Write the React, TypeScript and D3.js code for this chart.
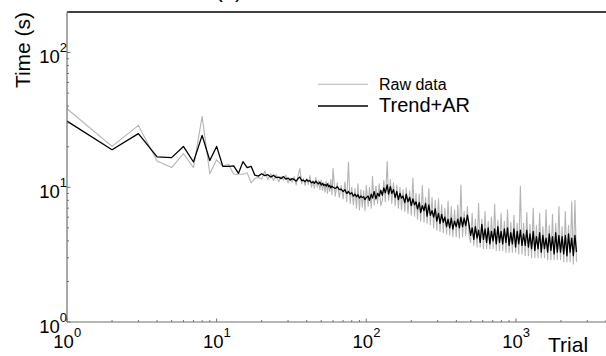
import React from "react";
import * as d3 from "d3";

// ---- data ----
const trials = [
  1, 2, 3, 4, 5, 6, 7, 8, 9, 10, 11, 12, 13, 14, 15, 16, 17, 18, 19,
  20, 21, 22, 23, 24, 25, 26, 27, 28, 29, 30, 31, 32, 33, 34, 35, 36, 37, 38, 39, 40,
  41, 42, 43, 44, 45, 46, 47, 48, 49, 50, 51, 52, 53, 54, 55, 56, 57, 58, 59, 60,
  62, 64, 66, 68, 70, 72, 74, 76, 78, 80, 82, 84, 86, 88, 90, 92, 94, 96, 98, 100,
  103, 105, 108, 110, 113, 116, 119, 122, 125,
  128, 131, 134, 138, 141, 145, 148, 152, 156, 160,
  164, 168, 172, 176, 181, 185, 190, 195, 200, 205, 210, 215,
  220, 226, 231, 237, 243, 249, 255, 262, 268, 275, 282, 289, 296, 304,
  311, 319, 327, 335, 344, 352, 361, 370, 379, 389, 399, 409, 419, 429, 440,
  451, 462, 474, 486, 498, 510,
  523, 536, 550, 563, 577, 592, 607, 622, 637, 653, 670, 686, 704, 721, 739, 758, 777, 796,
  816, 837, 858, 879, 901, 924, 947, 970, 995, 1020, 1045, 1071, 1098, 1125, 1154, 1182,
  1212, 1242, 1273, 1305, 1338, 1371, 1406, 1441, 1477, 1514, 1552, 1590, 1630, 1671, 1713, 1756, 1800, 1845, 1891, 1938, 1986, 2036,
  2087, 2139, 2192, 2247, 2303, 2361, 2420, 2480, 2540,
];

const rawTime = [
  38.3, 20.1, 28.8, 15.7, 14.0, 17.8, 14.0, 33.6, 12.6, 16.0, 14.3, 14.8, 12.5, 12.5, 12.5, 12.8, 10.8, 11.6, 11.8,
  11.5, 13.2, 11.4, 12.6, 11.2, 12.4, 11.0, 12.0, 11.3, 12.3, 10.8, 11.7, 10.9, 12.0, 10.4, 12.2, 13.8, 10.6, 11.6, 10.3,
  11.6, 10.5, 12.2, 10.0, 11.2, 9.8, 11.8, 10.0, 11.2, 9.6, 11.3, 9.5, 10.9, 9.2, 11.1, 9.0, 10.8, 9.3, 11.4, 8.8, 13.8,
  8.6, 10.8, 8.4, 10.3, 8.2, 11.0, 7.8, 15.4, 7.6, 10.0, 7.4, 9.8, 7.0, 10.6, 6.8, 9.6, 7.1, 9.4, 6.7, 10.3,
  7.2, 10.0, 7.0, 12.0, 7.4, 10.2, 7.6, 10.6, 7.3,
  8.0, 11.2, 7.8, 15.5, 8.0, 11.4, 7.6, 10.8, 7.3, 10.4,
  7.0, 10.0, 6.8, 9.6, 6.6, 9.9, 6.4, 9.4, 6.2, 11.7, 6.1, 9.0,
  5.8, 8.9, 5.6, 10.3, 5.5, 8.4, 5.4, 9.8, 5.3, 8.4, 5.0, 8.0, 4.8, 8.2,
  4.7, 7.4, 4.6, 7.0, 4.5, 7.9, 4.4, 7.2, 4.3, 6.8, 4.3, 7.4, 4.2, 10.4, 4.3,
  6.6, 4.4, 7.2, 4.4, 3.9, 6.4,
  3.7, 5.8, 3.6, 7.6, 3.6, 5.8, 3.5, 6.6, 3.5, 5.6, 3.5, 6.0, 3.5, 7.5, 3.4, 5.7, 3.4, 6.4,
  3.4, 5.6, 3.3, 6.8, 3.3, 5.5, 3.3, 6.2, 3.3, 5.4, 3.2, 10.2, 3.2, 5.4, 3.1, 6.5,
  3.1, 5.3, 3.0, 7.0, 3.0, 5.2, 3.0, 6.4, 3.0, 5.1, 3.0, 6.8, 2.9, 5.2, 2.9, 6.3, 2.9, 5.4, 2.9, 7.2, 2.9, 5.1,
  2.8, 6.6, 2.8, 5.2, 2.8, 7.8, 2.7, 8.0, 2.8,
];

const trendTime = [
  31.0, 19.0, 25.0, 16.8, 16.6, 20.1, 15.4, 24.3, 15.8, 20.1, 14.3, 14.3, 14.4, 12.7, 15.5, 14.0, 14.3, 12.3, 12.1,
  12.6, 12.2, 12.4, 11.9, 12.3, 11.8, 11.9, 11.6, 12.0, 11.5, 11.7, 11.3, 11.6, 11.4, 11.1, 11.6, 11.9, 11.2, 11.3, 11.0,
  11.4, 11.1, 11.2, 10.8, 11.0, 10.7, 11.1, 10.8, 10.6, 10.9, 10.4, 10.7, 10.3, 10.5, 10.2, 10.6, 10.1, 10.3, 9.9, 10.2, 10.0,
  9.8, 10.1, 9.6, 9.7, 9.3, 9.6, 9.0, 9.3, 8.9, 9.1, 8.6, 8.9, 8.5, 8.8, 8.3, 8.6, 8.4, 8.5, 8.1, 8.4,
  8.6, 8.0, 8.9, 8.3, 9.3, 8.2, 9.0, 8.6, 9.5,
  8.7, 9.9, 9.1, 10.4, 8.9, 10.1, 9.0, 9.6, 8.4, 9.3,
  8.1, 9.0, 8.3, 8.6, 7.7, 8.9, 7.8, 8.4, 7.3, 8.2, 7.4, 7.8,
  6.9, 7.7, 6.5, 7.3, 6.7, 7.6, 6.1, 7.4, 6.2, 6.7, 6.0, 6.9, 5.6, 6.4,
  5.4, 6.3, 5.5, 6.0, 5.1, 5.8, 5.0, 5.9, 4.9, 5.6, 5.1, 5.8, 5.0, 6.0, 5.1,
  5.9, 5.2, 6.2, 5.3, 4.4, 5.0,
  4.1, 5.1, 4.2, 4.8, 3.9, 5.3, 4.1, 4.9, 3.9, 5.0, 3.8, 4.7, 4.0, 4.9, 3.8, 5.1, 3.9, 4.7,
  3.8, 4.9, 3.9, 5.0, 3.7, 4.6, 3.8, 4.9, 3.6, 4.7, 3.8, 4.8, 3.7, 4.5, 3.7, 4.8,
  3.6, 4.5, 3.5, 4.7, 3.4, 4.3, 3.5, 4.6, 3.3, 4.4, 3.5, 4.2, 3.3, 4.5, 3.4, 4.3, 3.2, 4.6, 3.3, 4.4, 3.3, 4.3,
  3.2, 4.4, 3.1, 4.5, 3.3, 4.2, 3.1, 4.4, 3.3,
];

const xMajorTicks = [1, 10, 100, 1000];
const xTickExponents = ["0", "1", "2", "3"];
const yMajorTicks = [1, 10, 100];
const yTickExponents = ["0", "1", "2"];
const seriesNames = ["Raw data", "Trend+AR"];
const xLabel = "Trial";
const yLabel = "Time (s)";
const title = "(a)";

const W = 606;
const H = 356;
const FONT = "'Liberation Sans', Arial, Helvetica, sans-serif";

type Pt = { t: number; raw: number; trend: number };

export default function App() {
  const x = d3.scaleLog().domain([1, 4000]).range([67, 606]);
  const y = d3.scaleLog().domain([1, 200]).range([322, 12]);

  const pts: Pt[] = trials.map((t, i) => ({ t, raw: rawTime[i], trend: trendTime[i] }));
  const rawLine = d3.line<Pt>().x((d) => x(d.t)).y((d) => y(d.raw));
  const trendLine = d3.line<Pt>().x((d) => x(d.t)).y((d) => y(d.trend));

  const xMinor: number[] = [];
  for (const dec of xMajorTicks) {
    for (let k = 2; k <= 9; k++) {
      const v = dec * k;
      if (v <= 4000) xMinor.push(v);
    }
  }
  const yMinor: number[] = [];
  for (const dec of yMajorTicks) {
    for (let k = 2; k <= 9; k++) {
      const v = dec * k;
      if (v <= 200) yMinor.push(v);
    }
  }

  const axisColor = "#707070";
  const x0 = x.range()[0];
  const y0 = y.range()[0];
  const yTop = y.range()[1];

  return (
    <svg
      width={W}
      height={H}
      style={{ position: "absolute", left: 0, top: 0, background: "#fff" }}
      fontFamily={FONT}
    >
      <rect x={0} y={0} width={W} height={H} fill="#fff" />
      {/* title, cut off at top */}
      <text x={229} y={-3} fontSize={22} textAnchor="middle" fill="#000">
        {title}
      </text>

      {/* data */}
      <path d={rawLine(pts) || ""} fill="none" stroke="#b4b4b4" strokeWidth={1.1} strokeLinejoin="round" />
      <path d={trendLine(pts) || ""} fill="none" stroke="#000" strokeWidth={1.3} strokeLinejoin="round" />

      {/* frame */}
      <line x1={x0} x2={W} y1={yTop} y2={yTop} stroke="#000" strokeWidth={1.5} />
      <line x1={x0} x2={x0} y1={yTop} y2={y0} stroke={axisColor} strokeWidth={1.2} />
      <line x1={x0} x2={W} y1={y0} y2={y0} stroke={axisColor} strokeWidth={1.2} />

      {/* x ticks */}
      {xMinor.map((v) => (
        <line key={"xm" + v} x1={x(v)} x2={x(v)} y1={y0} y2={y0 - 2} stroke={axisColor} strokeWidth={1} />
      ))}
      {xMajorTicks.map((v) => (
        <line key={"xM" + v} x1={x(v)} x2={x(v)} y1={y0} y2={y0 - 3.5} stroke={axisColor} strokeWidth={1} />
      ))}
      {xMajorTicks.map((v, i) => (
        <text key={"xl" + v} x={x(v) - 13.7} y={348} fontSize={18.5} fill="#000">
          <tspan>10</tspan>
          <tspan dy={-11} fontSize={13}>
            {xTickExponents[i]}
          </tspan>
        </text>
      ))}
      <text x={548} y={352} fontSize={21} fill="#000">
        {xLabel}
      </text>

      {/* y ticks */}
      {yMinor.map((v) => (
        <line key={"ym" + v} x1={x0} x2={x0 + 2} y1={y(v)} y2={y(v)} stroke={axisColor} strokeWidth={1} />
      ))}
      {yMajorTicks.map((v) => (
        <line key={"yM" + v} x1={x0} x2={x0 + 3.5} y1={y(v)} y2={y(v)} stroke={axisColor} strokeWidth={1} />
      ))}
      {yMajorTicks.map((v, i) => (
        <text key={"yl" + v} x={x0} y={y(v) + 10.5} fontSize={18.5} textAnchor="end" fill="#000">
          <tspan>10</tspan>
          <tspan dy={-11} fontSize={13}>
            {yTickExponents[i]}
          </tspan>
        </text>
      ))}
      <text transform={`translate(30,50) rotate(-90)`} fontSize={21} textAnchor="middle" fill="#000">
        {yLabel}
      </text>

      {/* legend */}
      <line x1={318} x2={368} y1={84.3} y2={84.3} stroke="#b4b4b4" strokeWidth={1.1} />
      <text x={379} y={90} fontSize={16} fill="#000">
        {seriesNames[0]}
      </text>
      <line x1={318} x2={368} y1={106} y2={106} stroke="#000" strokeWidth={1.3} />
      <text x={379} y={112} fontSize={20} fill="#000">
        {seriesNames[1]}
      </text>
    </svg>
  );
}
